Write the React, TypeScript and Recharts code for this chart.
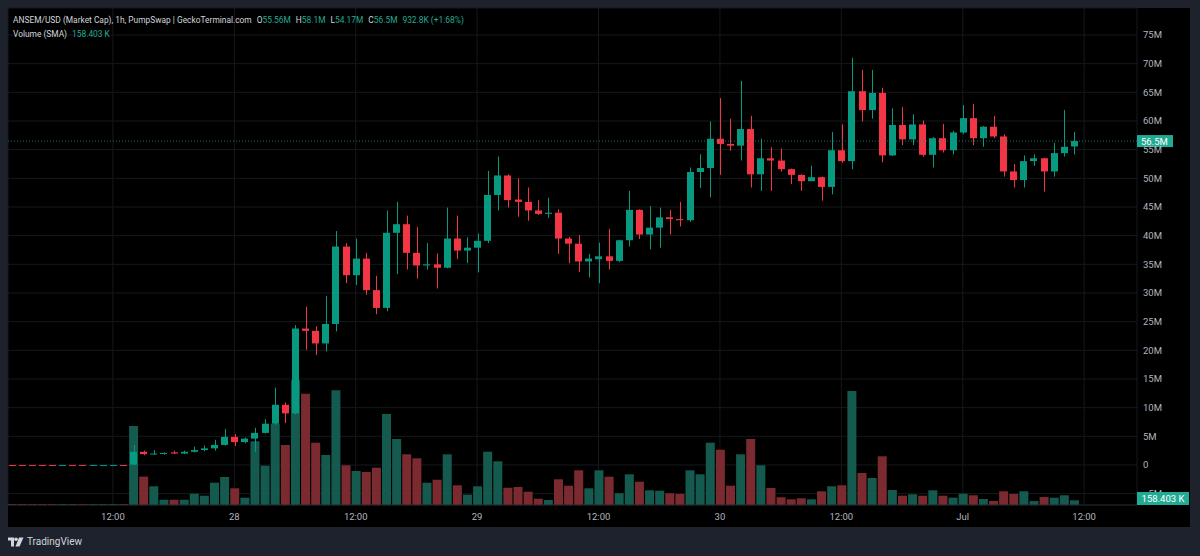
import React from 'react'
import {
  ComposedChart,
  Bar,
  Cell,
  XAxis,
  YAxis,
  CartesianGrid,
  ReferenceLine,
} from 'recharts'

// hour index from Jun 27 00:00, one candle per hour
const HOURS = Array.from({ length: 107 }, (_, i) => i + 1)

// market cap in millions (M)
const OPEN = [
  0.01, 0.01, 0.01, 0.01, 0.01, 0.01, 0, 0.01, 0.01, 0, 0, 0, 0.01,
  0.05, 2.3, 1.9, 2.0, 2.2, 2.0, 2.3, 2.6, 2.9, 3.5, 4.9, 4.0, 4.6, 5.6, 7.2, 10.5,
  9.0, 23.8, 23.4, 21.2, 24.6, 38.1, 33.1, 36.0, 30.5, 27.4, 40.5, 42.0, 37.0, 34.8,
  35.0, 34.4, 39.5, 37.4, 37.9, 39.1, 47.1, 50.5, 46.3, 45.9, 44.4, 43.8, 44.0, 39.5,
  38.6, 35.5, 35.9, 36.4, 35.6, 39.2, 44.5, 40.2, 41.4, 43.2, 42.9, 42.7, 51.1, 51.8,
  56.9, 56.0, 55.7, 58.6, 50.7, 53.5, 53.1, 51.6, 50.6, 49.5, 50.2, 48.5, 54.9, 53.0,
  65.2, 61.9, 64.9, 54.0, 59.3, 56.8, 59.4, 54.1, 57.0, 54.9, 58.0, 60.5, 57.0, 59.0,
  57.3, 51.2, 49.7, 53.0, 53.5, 51.2, 54.4, 55.56,
]
const HIGH = [
  0.01, 0.01, 0.01, 0.01, 0.01, 0.01, 0.01, 0.01, 0.01, 0.01, 0.01, 0.01, 0.01,
  3.5, 2.5, 2.6, 2.2, 2.5, 2.5, 3.2, 3.4, 4.4, 6.3, 5.4, 4.8, 6.5, 8.0, 13.5, 10.9,
  24.4, 27.6, 24.2, 29.5, 40.8, 38.7, 39.5, 37.0, 33.0, 44.4, 45.9, 43.5, 41.5, 38.7,
  36.9, 44.9, 43.5, 39.7, 40.4, 51.3, 53.8, 50.7, 50.0, 48.4, 46.2, 46.6, 44.6, 39.8,
  40.1, 36.8, 38.8, 41.2, 39.3, 47.8, 44.6, 45.2, 44.9, 44.5, 45.9, 51.9, 54.2, 59.9,
  64.0, 60.4, 67.0, 60.9, 56.9, 55.4, 55.2, 51.7, 50.7, 52.2, 50.3, 58.1, 59.4, 71.0,
  68.9, 68.9, 65.8, 62.2, 62.4, 61.2, 60.1, 57.2, 59.5, 58.3, 62.8, 63.0, 59.1, 60.9,
  57.7, 52.5, 54.0, 54.2, 53.6, 56.2, 61.9, 58.1,
]
const LOW = [
  0, 0, 0, 0, 0, 0, 0, 0, 0, 0, 0, 0, 0,
  0, 1.7, 1.8, 1.8, 1.9, 1.9, 2.2, 2.4, 2.5, 3.4, 3.3, 3.8, 2.3, 5.5, 7.0, 7.3,
  8.8, 20.1, 19.2, 19.8, 23.3, 31.7, 31.4, 29.7, 26.3, 26.8, 33.3, 34.1, 32.5, 34.1,
  30.8, 34.3, 35.9, 35.2, 33.6, 38.7, 44.4, 44.9, 43.3, 42.6, 43.6, 43.1, 36.8, 35.2,
  33.7, 32.7, 31.7, 34.1, 35.4, 38.1, 39.4, 37.6, 37.9, 40.2, 41.6, 42.4, 48.3, 46.7,
  50.6, 54.8, 53.1, 48.4, 47.8, 47.8, 51.2, 49.0, 47.8, 49.5, 46.1, 47.2, 52.7, 51.6,
  59.9, 60.4, 52.8, 53.9, 55.8, 55.8, 53.8, 51.9, 54.5, 54.2, 57.7, 55.8, 55.5, 57.0,
  50.3, 48.4, 48.4, 52.2, 47.7, 50.3, 53.8, 54.17,
]
const CLOSE = [
  0, 0, 0, 0, 0, 0, 0.01, 0, 0, 0.01, 0.01, 0.01, 0,
  2.3, 1.9, 2.0, 2.1, 2.0, 2.3, 2.6, 2.9, 3.5, 4.9, 4.0, 4.6, 5.6, 7.2, 10.5, 9.0,
  23.8, 23.4, 21.2, 24.6, 38.1, 33.1, 36.0, 30.5, 27.4, 40.5, 42.0, 37.0, 34.8, 35.0,
  34.4, 39.5, 37.4, 37.9, 39.1, 47.1, 50.5, 46.2, 45.9, 44.4, 43.8, 44.0, 39.5, 38.6,
  35.5, 36.0, 36.4, 35.6, 39.2, 44.5, 40.2, 41.4, 43.2, 42.9, 42.7, 51.1, 51.8, 56.9,
  56.0, 55.7, 58.6, 50.7, 53.5, 53.1, 51.6, 50.6, 49.5, 50.2, 48.5, 54.9, 53.0, 65.2,
  61.9, 64.9, 54.0, 59.3, 56.8, 59.4, 54.1, 57.0, 54.9, 58.0, 60.5, 57.0, 59.0, 57.3,
  51.2, 49.7, 53.0, 53.5, 51.2, 54.4, 55.5, 56.5,
]
// volume in thousands (K)
const VOLUME = [
  10, 10, 10, 10, 10, 10, 10, 10, 10, 10, 10, 10, 10,
  790, 284, 187, 53, 53, 53, 113, 93, 223, 280, 167, 73, 637, 393, 813, 600,
  1247, 1113, 623, 500, 1147, 397, 340, 330, 373, 910, 660, 507, 467, 223,
  253, 507, 197, 103, 187, 533, 437, 173, 180, 133, 63, 50, 257, 193,
  347, 167, 347, 283, 117, 307, 233, 147, 143, 117, 110, 347, 307, 623,
  553, 193, 507, 660, 397, 170, 77, 57, 67, 57, 137, 187, 197, 1140,
  320, 270, 487, 150, 93, 107, 93, 147, 93, 73, 113, 97, 60, 40,
  137, 110, 137, 40, 80, 73, 97, 47,
]

const TIME_TICKS = [12, 24, 36, 48, 60, 72, 84, 96, 108]
const TIME_LABELS = ['12:00', '28', '12:00', '29', '12:00', '30', '12:00', 'Jul', '12:00']
const PRICE_TICKS = [-5, 0, 5, 10, 15, 20, 25, 30, 35, 40, 45, 50, 55, 60, 65, 70, 75]

const LAST_CLOSE = 56.5
const SMA_LABEL = '158.403 K'

const UP = '#089981'
const DOWN = '#f23645'
const VOL_UP = '#145a4f'
const VOL_DOWN = '#7b2b30'
const TEAL = '#22ab94'
const AXIS_TEXT = '#b2b5be'
const FONT = 'Roboto, "Liberation Sans", Arial, sans-serif'

const data = HOURS.map((h, i) => ({
  t: h,
  o: OPEN[i],
  h: HIGH[i],
  l: LOW[i],
  c: CLOSE[i],
  v: VOLUME[i],
}))

function Candle(props: any) {
  const { x, y, width, height, payload } = props
  if (x == null || y == null) return null
  const color = payload.c >= payload.o ? UP : DOWN
  const yTop = Math.min(y, y + height)
  const yBot = Math.max(y, y + height)
  const range = payload.h - payload.l
  const toY = (v: number) => (range > 0 ? yTop + ((payload.h - v) / range) * (yBot - yTop) : yTop)
  const bTop = toY(Math.max(payload.o, payload.c))
  const bBot = toY(Math.min(payload.o, payload.c))
  const cx = Math.round(x + width / 2) + 0.5
  return (
    <g>
      <line x1={cx} x2={cx} y1={yTop} y2={yBot} stroke={color} strokeWidth={1} />
      <rect x={Math.round(x)} y={bTop} width={width} height={Math.max(1, bBot - bTop)} fill={color} />
    </g>
  )
}

function PriceTag(props: any) {
  const vb = props.viewBox
  if (!vb) return null
  const x = vb.x + vb.width
  return (
    <g>
      <rect x={x} y={vb.y - 6} width={36} height={12} fill={TEAL} />
      <text x={x + 4} y={vb.y + 3.5} fill="#ffffff" fontSize={9.5} fontFamily={FONT}>
        {LAST_CLOSE}M
      </text>
    </g>
  )
}

function Logo() {
  return (
    <svg width={16} height={10} style={{ position: 'absolute', left: 8, top: 537 }}>
      <path d="M0 0.5h6v9h-3V3.5H0z" fill="#d1d4dc" />
      <circle cx={8} cy={2.3} r={1.8} fill="#d1d4dc" />
      <path d="M11 0.5h4.5l-4 9H7.5z" fill="#d1d4dc" />
    </svg>
  )
}

export default function App() {
  const priceFmt = (v: number) => (v === 0 ? '0' : v < 0 ? `−${-v}M` : `${v}M`)
  const timeFmt = (v: number) => TIME_LABELS[TIME_TICKS.indexOf(v)] ?? ''

  return (
    <div style={{ position: 'absolute', left: 0, top: 0, width: 1200, height: 556, background: '#1e222d', overflow: 'hidden' }}>
      <div style={{ position: 'absolute', left: 8, top: 8, width: 1182, height: 519, background: '#000' }} />
      <div style={{ position: 'absolute', left: 0, top: 0 }}>
        <ComposedChart width={1200} height={556} data={data} margin={{ top: 8, left: 8, right: 10, bottom: 29 }}>
          <CartesianGrid xAxisId="p" yAxisId="p" stroke="#16181d" strokeWidth={1} />
          <XAxis
            xAxisId="p"
            dataKey="t"
            type="number"
            domain={[1.631, 113.225]}
            allowDataOverflow
            ticks={TIME_TICKS}
            tickFormatter={timeFmt}
            height={22}
            tickSize={0}
            tickMargin={8}
            axisLine={{ stroke: '#22252e' }}
            tick={{ fill: AXIS_TEXT, fontSize: 9.5, fontFamily: FONT }}
          />
          <XAxis xAxisId="v" dataKey="t" type="number" domain={[1.631, 113.225]} allowDataOverflow hide />
          <YAxis
            yAxisId="p"
            orientation="right"
            type="number"
            domain={[-6.977, 79.71]}
            allowDataOverflow
            ticks={PRICE_TICKS}
            tickFormatter={priceFmt}
            width={53}
            tickSize={0}
            tickMargin={6}
            axisLine={false}
            tickLine={false}
            tick={{ fill: AXIS_TEXT, fontSize: 9.5, fontFamily: FONT, textAnchor: 'start' }}
          />
          <YAxis yAxisId="v" type="number" domain={[0, 4970]} allowDataOverflow hide />
          <Bar xAxisId="v" yAxisId="v" dataKey="v" barSize={9} isAnimationActive={false}>
            {data.map((d, i) => (
              <Cell key={`v-${i}`} fill={d.c >= d.o ? VOL_UP : VOL_DOWN} />
            ))}
          </Bar>
          <ReferenceLine
            xAxisId="p"
            yAxisId="p"
            y={LAST_CLOSE}
            stroke={UP}
            strokeOpacity={0.8}
            strokeDasharray="1 2"
            label={(p: any) => <PriceTag {...p} />}
          />
          <Bar
            xAxisId="p"
            yAxisId="p"
            dataKey={(d: any) => [d.l, d.h]}
            barSize={7}
            shape={(p: any) => <Candle {...p} />}
            isAnimationActive={false}
          />
        </ComposedChart>
      </div>
      <div style={{ position: 'absolute', left: 1137, top: 492, width: 52, height: 13, background: TEAL, color: '#fff', fontSize: 9.5, fontFamily: FONT, lineHeight: '13px', textAlign: 'center' }}>
        {SMA_LABEL}
      </div>
      <div style={{ position: 'absolute', left: 13, top: 14, fontSize: 8.4, fontFamily: FONT, color: '#d1d4dc', whiteSpace: 'nowrap', lineHeight: '13px' }}>
        <span>ANSEM/USD (Market Cap), 1h, PumpSwap | GeckoTerminal.com</span>
        <span style={{ marginLeft: 5 }}>O</span><span style={{ color: TEAL }}>55.56M</span>
        <span style={{ marginLeft: 5 }}>H</span><span style={{ color: TEAL }}>58.1M</span>
        <span style={{ marginLeft: 5 }}>L</span><span style={{ color: TEAL }}>54.17M</span>
        <span style={{ marginLeft: 5 }}>C</span><span style={{ color: TEAL }}>56.5M</span>
        <span style={{ marginLeft: 5, color: TEAL }}>932.8K (+1.68%)</span>
      </div>
      <div style={{ position: 'absolute', left: 13, top: 28, fontSize: 8.4, fontFamily: FONT, color: '#d1d4dc', whiteSpace: 'nowrap', lineHeight: '13px' }}>
        <span>Volume (SMA)</span>
        <span style={{ marginLeft: 5, color: TEAL }}>{SMA_LABEL}</span>
      </div>
      <Logo />
      <div style={{ position: 'absolute', left: 27, top: 535, fontSize: 10, fontFamily: FONT, color: '#d1d4dc', lineHeight: '14px' }}>
        TradingView
      </div>
    </div>
  )
}
